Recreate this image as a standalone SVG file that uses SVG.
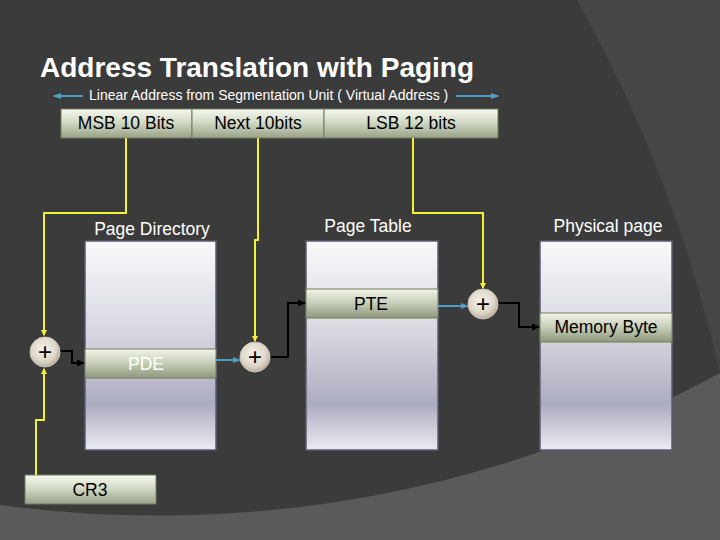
<svg xmlns="http://www.w3.org/2000/svg" width="720" height="540" viewBox="0 0 720 540">
<defs>
<linearGradient id="bar" x1="0" y1="0" x2="0" y2="1">
<stop offset="0" stop-color="#f6f9ef"/><stop offset="0.45" stop-color="#d3dac6"/><stop offset="1" stop-color="#98a287"/>
</linearGradient>
<linearGradient id="row" x1="0" y1="0" x2="0" y2="1">
<stop offset="0" stop-color="#f2f6e8"/><stop offset="0.5" stop-color="#c5ccb6"/><stop offset="1" stop-color="#8e987c"/>
</linearGradient>
<linearGradient id="tbl" x1="0" y1="0" x2="0" y2="1">
<stop offset="0" stop-color="#f9f9fb"/><stop offset="0.45" stop-color="#d6d6e0"/><stop offset="0.78" stop-color="#adabbf"/><stop offset="1" stop-color="#ebebf2"/>
</linearGradient>
<radialGradient id="circ" cx="0.45" cy="0.4" r="0.6">
<stop offset="0" stop-color="#f6f3ec"/><stop offset="0.7" stop-color="#ddd6c8"/><stop offset="1" stop-color="#b5ac9b"/>
</radialGradient>
<marker id="ab" markerWidth="8" markerHeight="8" refX="7" refY="4" orient="auto" markerUnits="userSpaceOnUse">
<path d="M0,0.5 L8,4 L0,7.5 Z" fill="#000"/>
</marker>
<marker id="abl" markerWidth="8" markerHeight="8" refX="7" refY="4" orient="auto" markerUnits="userSpaceOnUse">
<path d="M0,1 L8,4 L0,7 Z" fill="#4b9fc4"/>
</marker>
<marker id="aby" markerWidth="6" markerHeight="6" refX="5" refY="3" orient="auto" markerUnits="userSpaceOnUse">
<path d="M0,0 L6,3 L0,6 Z" fill="#f5f03a"/>
</marker>
</defs>
<style>
text{font-family:"Liberation Sans",Arial,sans-serif}
.lbl{font-size:17.5px;fill:#000;text-anchor:middle}
.wl{font-size:17.5px;fill:#fff;text-anchor:middle}
.bar{fill:url(#bar);stroke:#6f7d5a;stroke-width:1}
.row{fill:url(#row);stroke:#6f7d5a;stroke-width:1}
.tbl{fill:url(#tbl);stroke:#5b5b72;stroke-width:1.5}
.y{fill:none;stroke:#f5f03a;stroke-width:2}
.k{fill:none;stroke:#000;stroke-width:2;marker-end:url(#ab)}
.b{fill:none;stroke:#4b9fc4;stroke-width:2;marker-end:url(#abl)}
.c{fill:url(#circ);stroke:#cfc6b4;stroke-width:1}
.p{font-size:24px;fill:#000;text-anchor:middle}
</style>
<rect width="720" height="540" fill="#3b3b3b"/>
<path d="M577,0 A1400,1400 0 0 1 720,373 L720,0 Z" fill="#464646"/>
<path d="M0,505 A1182,1182 0 0 0 720,373 L720,540 L0,540 Z" fill="#5a5a5a"/>

<text x="40" y="77" font-size="28" font-weight="bold" fill="#fff">Address Translation with Paging</text>
<g id="subtitle">
<text x="89" y="100" font-size="14" fill="#fff">Linear Address from Segmentation Unit ( Virtual Address )</text>
<path class="b" d="M83,96 L54,96"/>
<path class="b" d="M456,96 L498,96"/>
</g>

<g id="address">
<rect class="bar" x="61" y="109" width="131" height="29"/>
<rect class="bar" x="192" y="109" width="132" height="29"/>
<rect class="bar" x="324" y="109" width="174" height="29"/>
<text class="lbl" x="126" y="129">MSB 10 Bits</text>
<text class="lbl" x="258" y="129">Next 10bits</text>
<text class="lbl" x="411" y="129">LSB 12 bits</text>
</g>

<g id="pagedir">
<text class="wl" x="152" y="235">Page Directory</text>
<rect class="tbl" x="85" y="241" width="131" height="209"/>
<rect class="row" x="85" y="349" width="131" height="29"/>
<text class="wl" x="146" y="370">PDE</text>
</g>

<g id="pagetable">
<text class="wl" x="368" y="232">Page Table</text>
<rect class="tbl" x="306" y="241" width="132" height="209"/>
<rect class="row" x="306" y="289" width="132" height="29"/>
<text class="lbl" x="371" y="310">PTE</text>
</g>

<g id="physpage">
<text class="wl" x="608" y="232">Physical page</text>
<rect class="tbl" x="540" y="241" width="132" height="209"/>
<rect class="row" x="540" y="313" width="132" height="29"/>
<text class="lbl" x="606" y="333">Memory Byte</text>
</g>

<g id="cr3">
<rect class="bar" x="25" y="475" width="131" height="29"/>
<text class="lbl" x="90" y="496">CR3</text>
</g>

<g id="connectors">
<path class="y" d="M126,138 V213 H44 V335" marker-end="url(#aby)"/>
<path class="y" d="M36,475 V420 H44 V369" marker-end="url(#aby)"/>
<path class="y" d="M258,138 V240 H255 V341" marker-end="url(#aby)"/>
<path class="y" d="M413,138 V213 H483 V288" marker-end="url(#aby)"/>
<path class="k" d="M60,351 H72 V363 H84"/>
<path class="k" d="M270,357 H288 V303 H305"/>
<path class="k" d="M498,303 H519 V327 H539"/>
<path class="b" d="M216,360 H240"/>
<path class="b" d="M438,306 H468"/>
</g>

<g id="add1"><circle class="c" cx="45" cy="352" r="15"/><text class="p" x="45" y="360">+</text></g>
<g id="add2"><circle class="c" cx="255" cy="357" r="15"/><text class="p" x="255" y="365">+</text></g>
<g id="add3"><circle class="c" cx="483" cy="304" r="15"/><text class="p" x="483" y="312">+</text></g>
</svg>
